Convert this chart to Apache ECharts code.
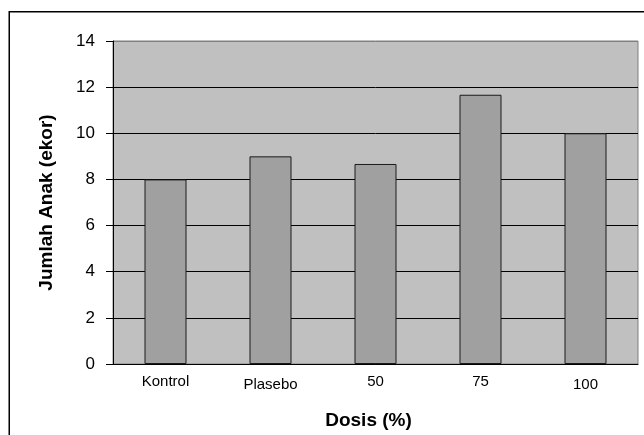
<!DOCTYPE html>
<html>
<head>
<meta charset="utf-8">
<script src="https://cdn.jsdelivr.net/npm/echarts@6/dist/echarts.min.js"></script>
<style>
html,body{margin:0;padding:0;background:#fff;}
#c{width:644px;height:435px;}
</style>
</head>
<body>
<div id="c"></div>
<script>
const categories = ['Kontrol', 'Plasebo', '50', '75', '100'];
const values = [8, 9, 8.67, 11.67, 10];
const yTicks = [0, 2, 4, 6, 8, 10, 12, 14];
const xTitle = 'Dosis (%)';
const yTitle = 'Jumlah Anak (ekor)';

const font = '"Liberation Sans", Arial, sans-serif';
const chart = echarts.init(document.getElementById('c'), null, {renderer: 'canvas'});
const splitColors = yTicks.map((t, i) => i === yTicks.length - 1 ? '#808080' : '#000000');

chart.setOption({
  animation: false,
  backgroundColor: '#ffffff',
  grid: {
    left: 113, top: 41, right: 6, bottom: 71,
    show: true, backgroundColor: '#c0c0c0', borderColor: '#808080', borderWidth: 1
  },
  graphic: [{
    type: 'rect', z: 100, silent: true,
    shape: {x: 9.25, y: 11.75, width: 700, height: 500},
    style: {fill: null, stroke: '#000', lineWidth: 1.5}
  }],
  xAxis: {
    type: 'category',
    data: categories,
    axisLine: {lineStyle: {color: '#000', width: 1}},
    axisTick: {show: false},
    axisLabel: {
      margin: 10, color: '#000', fontFamily: font, fontSize: 15,
      formatter: (v, i) => (i === 1 || i === 4) ? '{d|' + v + '}' : '{u|' + v + '}',
      rich: {
        u: {fontFamily: font, fontSize: 15, color: '#000', padding: [0, 0, 3, 0]},
        d: {fontFamily: font, fontSize: 15, color: '#000', padding: [3, 0, 0, 0]}
      }
    },
    name: xTitle,
    nameLocation: 'middle',
    nameGap: 47,
    nameTextStyle: {fontFamily: font, fontSize: 19, fontWeight: 'bold', color: '#000', padding: [0, 14, 0, 0]}
  },
  yAxis: {
    type: 'value',
    min: yTicks[0], max: yTicks[yTicks.length - 1], interval: 2,
    axisLine: {show: true, lineStyle: {color: '#000', width: 1}},
    axisTick: {show: true, length: 7, lineStyle: {color: '#000'}},
    axisLabel: {margin: 18, color: '#000', fontFamily: font, fontSize: 17},
    splitLine: {show: true, lineStyle: {color: splitColors, width: 1}},
    name: yTitle,
    nameLocation: 'middle',
    nameRotate: 90,
    nameGap: 57,
    nameTextStyle: {fontFamily: font, fontSize: 19, fontWeight: 'bold', color: '#000'}
  },
  series: [{
    type: 'bar',
    data: values,
    barWidth: '40%',
    itemStyle: {color: '#a0a0a0', borderColor: '#1a1a1a', borderWidth: 1}
  }]
});
</script>
</body>
</html>
